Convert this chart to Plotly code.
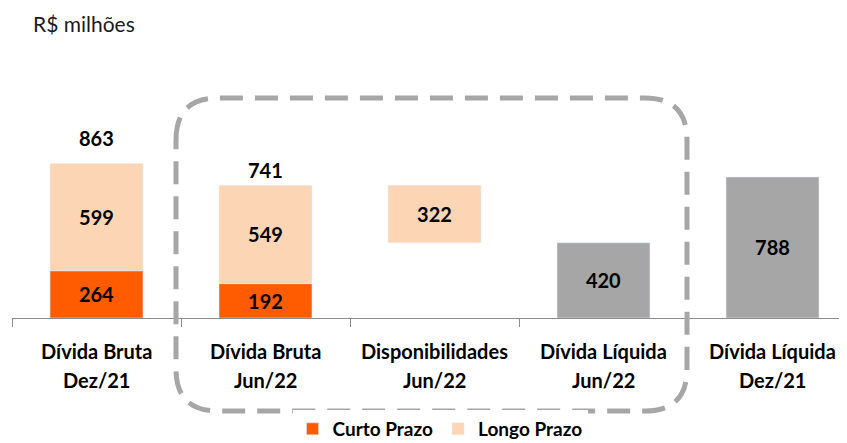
import plotly.graph_objects as go

cat_line1 = ["Dívida Bruta", "Dívida Bruta", "Disponibilidades", "Dívida Líquida", "Dívida Líquida"]
cat_line2 = ["Dez/21", "Jun/22", "Jun/22", "Jun/22", "Dez/21"]
categories = [f"{a} {b}" for a, b in zip(cat_line1, cat_line2)]
curto_prazo = [264, 192, None, None, None]
longo_prazo = [599, 549, 322, None, None]
longo_base = [264, 192, 420, None, None]
divida_liquida = [None, None, None, 420, 788]
totals = [863, 741, None, None, None]
total_shift = [12, 1, 0, 0, 0]

ORANGE = "#FF5B00"
PEACH = "#FCD5B5"
GREY = "#A6A6A6"
FONT = "Lato"

# the page body has an 8px margin: build the figure so it ends at the window edge
OFF = 8
W, H = 847 - OFF, 443 - OFF
ML, MR, MT, MB = 12 - OFF, 0, 40 - OFF, 125
PW, PH = W - ML - MR, H - MT - MB
YMAX = PH / 0.179


def px(x):  # page pixel x -> paper
    return (x - OFF - ML) / PW


def py(y):  # page pixel y -> paper
    return (OFF + MT + PH - y) / PH


fig = go.Figure()
lbl = dict(family=FONT, size=20, color="black")
fig.add_bar(x=categories, y=curto_prazo, name="Curto Prazo", marker_color=ORANGE,
            text=[f"<b>{v}</b>" if v else "" for v in curto_prazo], textposition="inside",
            insidetextanchor="middle", textfont=lbl, width=0.55)
fig.add_bar(x=categories, y=longo_prazo, base=longo_base, name="Longo Prazo", marker_color=PEACH,
            text=[f"<b>{v}</b>" if v else "" for v in longo_prazo], textposition="inside",
            insidetextanchor="middle", textfont=lbl, width=0.55)
fig.add_bar(x=categories, y=divida_liquida, name="Dívida Líquida", marker_color=GREY, showlegend=False,
            text=[f"<b>{v}</b>" if v else "" for v in divida_liquida], textposition="inside",
            insidetextanchor="middle", textfont=lbl, width=0.55)

for c, t, s in zip(categories, totals, total_shift):
    if t is not None:
        fig.add_annotation(x=c, y=t, text=f"<b>{t}</b>", showarrow=False, yanchor="bottom",
                           yshift=s, font=lbl)

for c, a, b in zip(categories, cat_line1, cat_line2):
    fig.add_annotation(x=c, y=py(351), yref="paper", text=f"<b>{a}</b>", showarrow=False,
                       yanchor="middle", font=dict(family=FONT, size=20, color="black"))
    fig.add_annotation(x=c, y=py(380), yref="paper", text=f"<b>{b}</b>", showarrow=False,
                       yanchor="middle", font=dict(family=FONT, size=20, color="black"))

L, R, T, B, r = 176, 687, 98, 411, 42
path = (f"M {px(L)},{py(T + r)} Q {px(L)},{py(T)} {px(L + r)},{py(T)} "
        f"L {px(R - r)},{py(T)} Q {px(R)},{py(T)} {px(R)},{py(T + r)} "
        f"L {px(R)},{py(B - r)} Q {px(R)},{py(B)} {px(R - r)},{py(B)} "
        f"L {px(L + r)},{py(B)} Q {px(L)},{py(B)} {px(L)},{py(B - r)} Z")
fig.add_shape(type="path", path=path, xref="paper", yref="paper",
              line=dict(color=GREY, width=5, dash="23px,12px"), layer="above")

fig.update_layout(
    width=W, height=H,
    margin=dict(l=ML, r=MR, t=MT, b=MB, autoexpand=False),
    plot_bgcolor="white", paper_bgcolor="white",
    barmode="overlay",
    showlegend=True,
    legend=dict(orientation="h", x=px(440), xanchor="center", y=py(429), yanchor="middle",
                font=dict(family=FONT, size=19, color="black", weight="bold"),
                itemwidth=30, tracegroupgap=0),
    title=dict(text="R$ milhões", x=(33 - OFF) / W, xanchor="left", y=1 - (25 - OFF) / H,
               yanchor="middle", font=dict(family=FONT, size=21, color="#1a1a1a")),
    xaxis=dict(range=[-0.5, -0.5 + PW / 169], showline=True, linecolor="#8C8C8C", linewidth=1.3,
               ticks="outside", tickson="boundaries", ticklen=8, tickcolor="#8C8C8C",
               showticklabels=False, automargin=False,
               showgrid=False, fixedrange=True),
    yaxis=dict(range=[0, YMAX], visible=False, showgrid=False, fixedrange=True),
)

fig.write_html("out.html")
